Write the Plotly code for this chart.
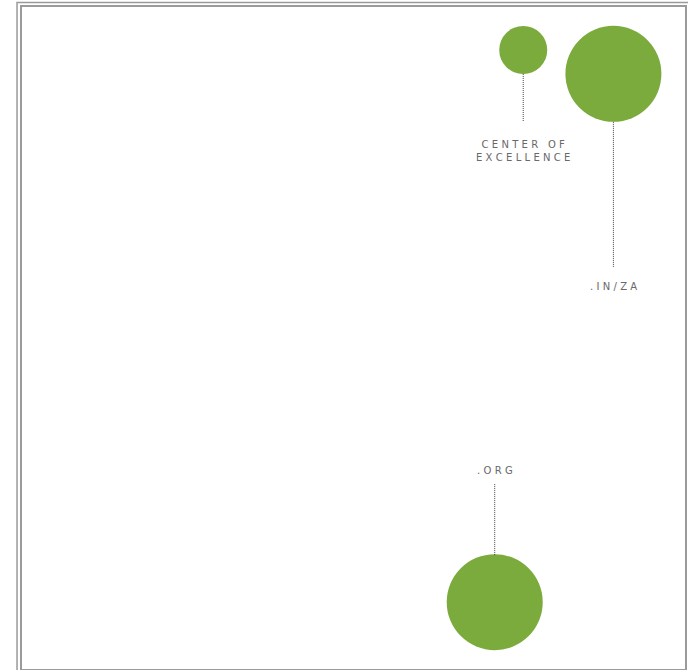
import plotly.graph_objects as go

# bubble data (x / y on a 0-100 grid, value drives bubble area)
labels = ["CENTER OF<br>EXCELLENCE", ".IN/ZA", ".ORG"]
x_pos = [75.6, 89.2, 71.3]
y_pos = [93.5, 89.9, 10.1]
values = [1, 4, 4]

GREEN = "#7bab3c"
LABEL_GREY = "#686868"
LEADER_GREY = "#444444"
FRAME_GREY = "#9a9a9a"

# pixel offsets of leader lines / labels relative to each bubble centre
leader = [(-24, -72), (-48, -193), (47, 118)]
label_shift = [-101, -213, 132]


def spaced(text):
    # fake letter-spacing with third-em spaces
    return "<br>".join("\u2004".join(part) for part in text.split("<br>"))


fig = go.Figure()
fig.add_trace(
    go.Scatter(
        x=x_pos,
        y=y_pos,
        mode="markers",
        marker=dict(size=values, sizemode="area", sizeref=1 / 1152, color=GREEN, line=dict(width=0), opacity=1),
        hoverinfo="text",
        hovertext=[l.replace("<br>", " ") for l in labels],
    )
)

for xv, yv, (a, b), shift, text in zip(x_pos, y_pos, leader, label_shift, labels):
    fig.add_shape(
        type="line",
        xref="x",
        yref="y",
        ysizemode="pixel",
        yanchor=yv,
        x0=xv,
        x1=xv,
        y0=a,
        y1=b,
        line=dict(color=LEADER_GREY, width=1, dash="1px,1px"),
    )
    fig.add_annotation(
        x=xv,
        y=yv,
        yshift=shift,
        text=spaced(text),
        showarrow=False,
        align="center",
        font=dict(family="DejaVu Sans, sans-serif", size=10, color=LABEL_GREY),
    )

# outer frame line (inner frame = mirrored axis lines)
fig.add_shape(
    type="rect",
    xref="paper",
    yref="paper",
    x0=-0.0075,
    x1=1.05,
    y0=-0.05,
    y1=1.0068,
    line=dict(color=FRAME_GREY, width=1.5),
    layer="below",
)

fig.update_layout(
    width=688,
    height=670,
    paper_bgcolor="white",
    plot_bgcolor="white",
    margin=dict(l=22, r=3, t=7, b=1),
    showlegend=False,
)
fig.update_xaxes(range=[0, 100], visible=True, showgrid=False, zeroline=False, showticklabels=False,
                 showline=True, mirror=True, linecolor=FRAME_GREY, linewidth=1.5, ticks="")
fig.update_yaxes(range=[0, 100], visible=True, showgrid=False, zeroline=False, showticklabels=False,
                 showline=True, mirror=True, linecolor=FRAME_GREY, linewidth=1.5, ticks="")

fig.write_html("out.html", config={"displayModeBar": False},
               post_script="document.body.style.margin='0';")
